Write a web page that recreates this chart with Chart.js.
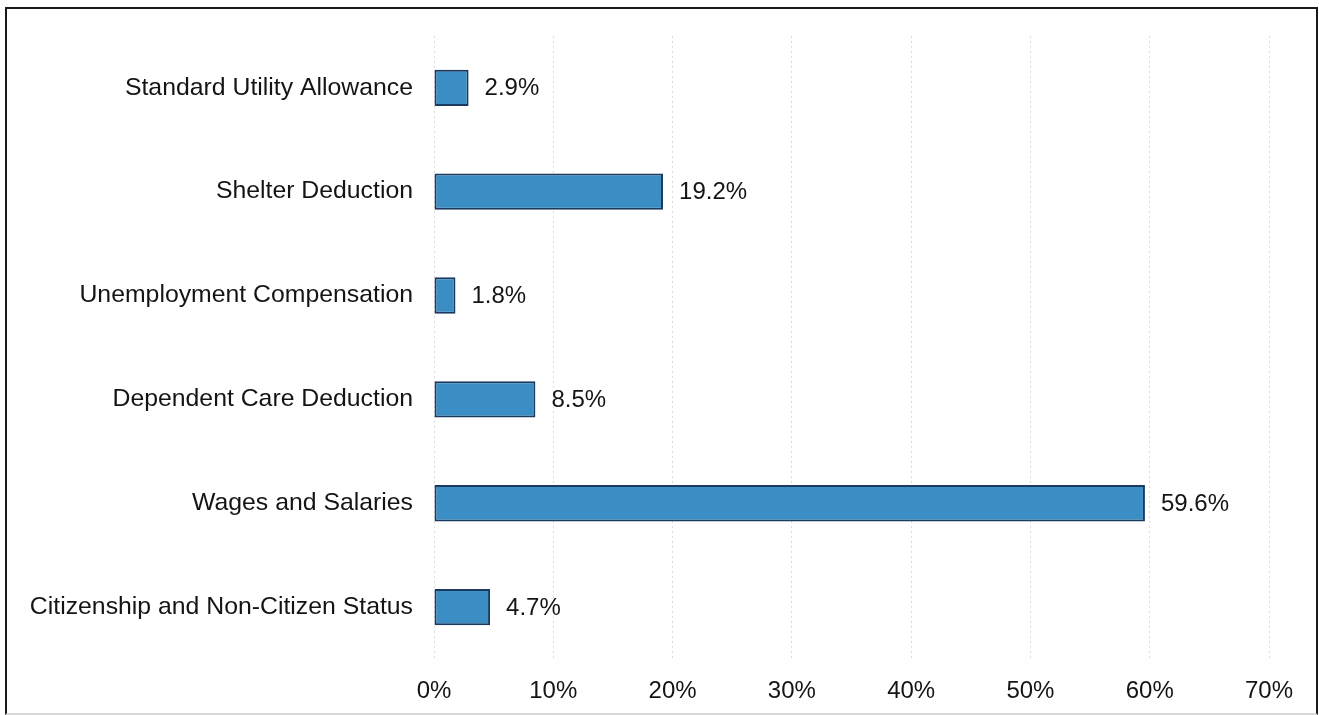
<!DOCTYPE html>
<html>
<head>
<meta charset="utf-8">
<script src="https://cdn.jsdelivr.net/npm/chart.js@4"></script>
<style>
  html, body { margin: 0; padding: 0; background: #fff; }
  #wrap { position: relative; width: 1319px; height: 715px; }
  #frame {
    position: absolute; left: 5px; top: 7px; width: 1309px; height: 704px;
    border: 2px solid #1a1a1a; border-bottom-color: #d8d8d8;
  }
  canvas { position: absolute; left: 0; top: 0; }
</style>
</head>
<body>
<div id="wrap">
  <div id="frame"></div>
  <canvas id="chart" width="1319" height="715"></canvas>
</div>
<script>
const categories = ['Standard Utility Allowance', 'Shelter Deduction', 'Unemployment Compensation',
  'Dependent Care Deduction', 'Wages and Salaries', 'Citizenship and Non-Citizen Status'];
const shares = [2.9, 19.2, 1.8, 8.5, 59.6, 4.7];
const xTicks = [0, 10, 20, 30, 40, 50, 60, 70];

const fontFamily = '"Liberation Sans", Arial, sans-serif';

// value labels drawn just past the end of each bar
const valueLabels = {
  id: 'valueLabels',
  afterDatasetsDraw(chart) {
    const ctx = chart.ctx;
    const meta = chart.getDatasetMeta(0);
    ctx.save();
    ctx.font = '24px ' + fontFamily;
    ctx.fillStyle = '#141414';
    ctx.textAlign = 'left';
    ctx.textBaseline = 'middle';
    meta.data.forEach((bar, i) => {
      ctx.fillText(shares[i].toFixed(1) + '%', bar.x + 16, bar.y + 1);
    });
    ctx.restore();
  }
};

new Chart(document.getElementById('chart'), {
  type: 'bar',
  data: {
    labels: categories,
    datasets: [{
      data: shares,
      backgroundColor: '#3a8ec4',
      borderColor: '#1b3a60',
      borderWidth: 2,
      borderSkipped: false,
      barPercentage: 0.35,
      categoryPercentage: 1
    }]
  },
  options: {
    indexAxis: 'y',
    responsive: false,
    animation: false,
    layout: { padding: { top: 35, right: 50, bottom: 0, left: 0 } },
    plugins: { legend: { display: false }, tooltip: { enabled: false } },
    scales: {
      x: {
        min: 0, max: 70,
        afterBuildTicks(scale) { scale.ticks = xTicks.map(v => ({ value: v })); },
        afterFit(scale) { scale.height = 56; },
        grid: { color: '#dadada', drawTicks: false },
        border: { display: false, dash: [2, 3] },
        ticks: {
          padding: 18,
          color: '#141414',
          font: { family: fontFamily, size: 24 },
          callback: v => v + '%'
        }
      },
      y: {
        afterFit(scale) { scale.width = 434; },
        grid: { display: false, drawTicks: false },
        border: { display: false },
        ticks: {
          padding: 21,
          color: '#141414',
          font: { family: fontFamily, size: 24.8 }
        }
      }
    }
  },
  plugins: [valueLabels]
});
</script>
</body>
</html>
